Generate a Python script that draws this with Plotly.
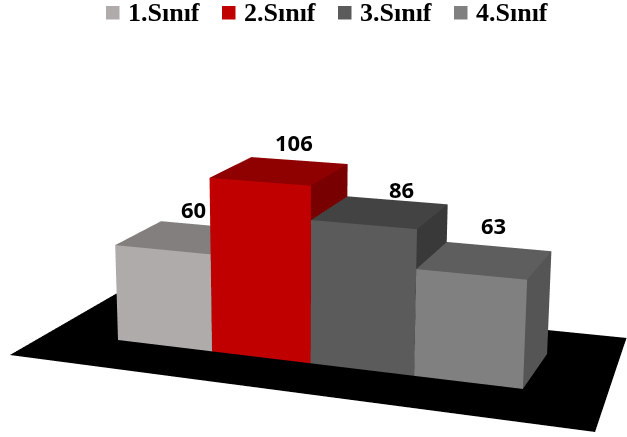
import plotly.graph_objects as go

# Chart data
categories = ["1.Sınıf", "2.Sınıf", "3.Sınıf", "4.Sınıf"]
values = [60, 106, 86, 63]

# Shades of each bar: front, top and right-hand faces
front_colors = ["#AFABAB", "#C00000", "#5B5B5B", "#808080"]
top_colors = ["#837F7F", "#8F0000", "#434343", "#5E5E5E"]
side_colors = ["#6E6B6B", "#790000", "#393939", "#555555"]

# Pixel nudges that lift the value labels clear of the bars
label_dx = [9, 14, 21, 8]
label_dy = [-28, -29, -23, -35]

# Corners of the ground plane, as (category position, depth)
floor_corners = [(-0.756, -0.748), (4.78, -0.789), (4.62, 1.736), (-0.745, 1.617)]

W, H = 627, 437
FOCAL = (H / 2) * 2.41421  # plotly's scene camera has a fixed 45 degree field of view
EYE = 0.8


def to_scene(a, b, h):
    """Oblique chart frame: a along the categories, b into the depth, h up the value axis."""
    w = 1 - 0.0234 * a + 0.0604 * b - 0.00026 * h
    u = 118 + 89 * a + 54.9 * b - 0.0768 * h
    v = 340 + 3.15 * a - 10.2 * b - 1.645 * h
    x = EYE * (u - W / 2 * w) / FOCAL
    y = EYE * (w - 1)
    z = -EYE * (v - H / 2 * w) / FOCAL
    return 2 * x, 2 * y, 2 * z


def quad_mesh(quads, colors, name):
    xs, ys, zs, i, j, k, face = [], [], [], [], [], [], []
    for quad, color in zip(quads, colors):
        n = len(xs)
        for corner in quad:
            px, py, pz = to_scene(*corner)
            xs.append(px)
            ys.append(py)
            zs.append(pz)
        i += [n, n]
        j += [n + 1, n + 2]
        k += [n + 2, n + 3]
        face += [color, color]
    return go.Mesh3d(
        x=xs, y=ys, z=zs, i=i, j=j, k=k, facecolor=face, flatshading=True, name=name,
        lighting=dict(ambient=1, diffuse=0, specular=0, fresnel=0, roughness=1),
        hoverinfo="name",
    )


fig = go.Figure()

# Ground plane
fig.add_trace(quad_mesh([[(a, b, 0) for a, b in floor_corners]], ["#000000"], "zemin"))

# One box per class
for n, (name, value) in enumerate(zip(categories, values)):
    left, right = n, n + 1
    front = [(left, 0, 0), (right, 0, 0), (right, 0, value), (left, 0, value)]
    top = [(left, 0, value), (right, 0, value), (right, 1, value), (left, 1, value)]
    side = [(right, 0, 0), (right, 1, 0), (right, 1, value), (right, 0, value)]
    fig.add_trace(quad_mesh([front, top, side],
                            [front_colors[n], top_colors[n], side_colors[n]], name))

# Value labels anchored at the centre of each bar's top
scene_labels = []
for n, value in enumerate(values):
    px, py, pz = to_scene(n + 0.5, 0.5, value)
    scene_labels.append(dict(
        x=px, y=py, z=pz, text=f"<b>{value}</b>", showarrow=False,
        xshift=label_dx[n], yshift=-label_dy[n],
        font=dict(family="Open Sans", size=22, color="#000000"),
    ))

hidden = dict(visible=False, range=[-1, 1], autorange=False)

# Legend row across the top
legend_swatch_x = [106, 222, 338, 454]
legend_shapes = []
legend_text = []
for n, name in enumerate(categories):
    x0 = legend_swatch_x[n]
    legend_shapes.append(dict(
        type="rect", xref="paper", yref="paper", layer="above", line_width=0,
        x0=x0 / W, x1=(x0 + 13.5) / W, y0=1 - 19.5 / H, y1=1 - 6 / H,
        fillcolor=front_colors[n],
    ))
    legend_text.append(dict(
        xref="paper", yref="paper", x=(x0 + 20) / W, y=1 - 12.5 / H, xanchor="left",
        yanchor="middle", showarrow=False, text=f"<b>{name}</b>",
        font=dict(family="Liberation Serif", size=26, color="#000000"),
    ))

fig.update_layout(
    width=W, height=H, margin=dict(l=0, r=0, t=0, b=0),
    paper_bgcolor="white", showlegend=False,
    shapes=legend_shapes, annotations=legend_text,
    scene=dict(
        domain=dict(x=[0, 1], y=[0, 1]),
        xaxis=hidden, yaxis=hidden, zaxis=hidden,
        aspectmode="manual", aspectratio=dict(x=1, y=1, z=1),
        camera=dict(
            eye=dict(x=0, y=-EYE, z=0), center=dict(x=0, y=0, z=0), up=dict(x=0, y=0, z=1),
            projection=dict(type="perspective"),
        ),
        annotations=scene_labels,
    ),
)

fig.write_html("out.html")
